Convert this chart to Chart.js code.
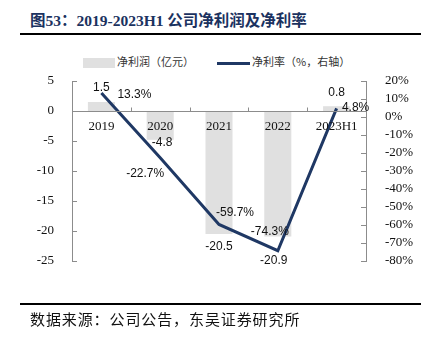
<!DOCTYPE html>
<html><head><meta charset="utf-8">
<script src="https://cdn.jsdelivr.net/npm/chart.js@4.4.0/dist/chart.umd.min.js"></script>
<style>
html,body{margin:0;padding:0;background:#fff;width:436px;height:343px;overflow:hidden;}
#wrap{position:relative;width:436px;height:343px;}
canvas{position:absolute;left:0;top:0;}
.title{position:absolute;left:30px;top:8px;font:bold 15.5px "Liberation Serif","Noto Sans CJK SC",serif;color:#1b3260;white-space:nowrap;}
.rule{position:absolute;left:20px;width:401px;height:2px;background:#000;}
.foot{position:absolute;left:30px;top:308px;font:15px "Noto Sans CJK SC",sans-serif;letter-spacing:0.9px;color:#111;white-space:nowrap;}
.leg{position:absolute;top:53px;font:11px "Noto Sans CJK SC",sans-serif;color:#333;white-space:nowrap;height:16px;line-height:16px;}
.leg span.box{display:inline-block;vertical-align:middle;}
</style></head>
<body><div id="wrap">
<div class="title">图53：2019-2023H1 公司净利润及净利率</div>
<div class="rule" style="top:33px"></div>
<div class="leg" style="left:83px"><span class="box" style="width:32px;height:10px;background:#e0e0e0;margin-right:2px"></span>净利润（亿元）</div>
<div class="leg" style="left:217px"><span class="box" style="width:33px;height:3px;background:#1f3864;margin-right:2px"></span>净利率（%，右轴）</div>
<canvas id="c" width="436" height="343"></canvas>
<div class="rule" style="top:303px;height:1.5px"></div>
<div class="foot">数据来源：公司公告，东吴证券研究所</div>
</div>
<script>
const categories = ["2019","2020","2021","2022","2023H1"];
const netProfit = [1.5, -4.8, -20.5, -20.9, 0.8];
const netMargin = [13.3, -22.7, -59.7, -74.3, 4.8];
const profitLabels = ["1.5","-4.8","-20.5","-20.9","0.8"];
const marginLabels = ["13.3%","-22.7%","-59.7%","-74.3%","4.8%"];

const AXIS = '#8c8c8c';
const tickFont = {family:'"Liberation Serif", serif', size:13};

const decor = {
  id:'decor',
  afterDatasetsDraw(chart){
    const ctx = chart.ctx, x = chart.scales.x, y = chart.scales.y, y1 = chart.scales.y1;
    const ca = chart.chartArea;
    ctx.save();
    ctx.strokeStyle = AXIS; ctx.lineWidth = 1;
    const y0 = Math.round(y.getPixelForValue(0)) + 0.5;
    ctx.beginPath(); ctx.moveTo(ca.left, y0); ctx.lineTo(ca.right, y0); ctx.stroke();
    for (let i = 0; i < categories.length - 1; i++) {
      const xp = Math.round((x.getPixelForValue(i) + x.getPixelForValue(i+1)) / 2) + 0.5;
      ctx.beginPath(); ctx.moveTo(xp, y0); ctx.lineTo(xp, y0 - 4); ctx.stroke();
    }
    y.ticks.forEach(t => {
      const yp = Math.round(y.getPixelForValue(t.value)) + 0.5;
      ctx.beginPath(); ctx.moveTo(ca.left, yp); ctx.lineTo(ca.left + 5, yp); ctx.stroke();
    });
    y1.ticks.forEach(t => {
      const yp = Math.round(y1.getPixelForValue(t.value)) + 0.5;
      ctx.beginPath(); ctx.moveTo(ca.right, yp); ctx.lineTo(ca.right - 5, yp); ctx.stroke();
    });
    ctx.fillStyle = '#111';
    ctx.font = '13px "Liberation Serif", serif';
    ctx.textAlign = 'center'; ctx.textBaseline = 'middle';
    categories.forEach((c, i) => ctx.fillText(c, x.getPixelForValue(i), y0 + 15));
    ctx.font = '12px "Liberation Sans", Arial, sans-serif';
    const barMeta = chart.getDatasetMeta(0), lineMeta = chart.getDatasetMeta(1);
    const pOff = [[0,-14],[2,3],[0,13],[-4,24],[0,-14]];
    barMeta.data.forEach((b, i) => {
      const [dx, dy] = pOff[i];
      ctx.fillText(profitLabels[i], b.x + dx, b.y + dy);
    });
    const mOff = [[33,2],[-15,15.5],[16,-12],[-8,-19],[19,-1]];
    lineMeta.data.forEach((p, i) => {
      const [dx, dy] = mOff[i];
      ctx.fillText(marginLabels[i], p.x + dx, p.y + dy);
    });
    ctx.restore();
  }
};

new Chart(document.getElementById('c'), {
  type:'bar',
  data:{
    labels:categories,
    datasets:[
      {type:'bar', label:'净利润（亿元）', data:netProfit, yAxisID:'y', backgroundColor:'#e0e0e0',
       categoryPercentage:1, barPercentage:0.46, order:2},
      {type:'line', label:'净利率（%，右轴）', data:netMargin, yAxisID:'y1', borderColor:'#1f3864',
       borderWidth:3, pointRadius:0, tension:0, fill:false, order:1}
    ]
  },
  options:{
    responsive:false, animation:false,
    layout:{padding:{top:81, bottom:82, left:0, right:0}},
    plugins:{legend:{display:false}, tooltip:{enabled:false}},
    scales:{
      x:{position:{y:0}, offset:true, grid:{display:false},
         border:{display:false},
         ticks:{display:false}},
      y:{position:'left', min:-25, max:5, grid:{display:false},
         border:{display:true, color:AXIS, width:1},
         ticks:{stepSize:5, autoSkip:false, color:'#111', font:tickFont, padding:10},
         afterFit(s){ s.width = 72; }},
      y1:{position:'right', min:-80, max:20, grid:{display:false},
         border:{display:true, color:AXIS, width:1},
         ticks:{stepSize:10, autoSkip:false, color:'#111', font:tickFont, padding:11, callback:v => v + '%'},
         afterFit(s){ s.width = 70; }}
    }
  },
  plugins:[decor]
});
</script>
</body></html>
